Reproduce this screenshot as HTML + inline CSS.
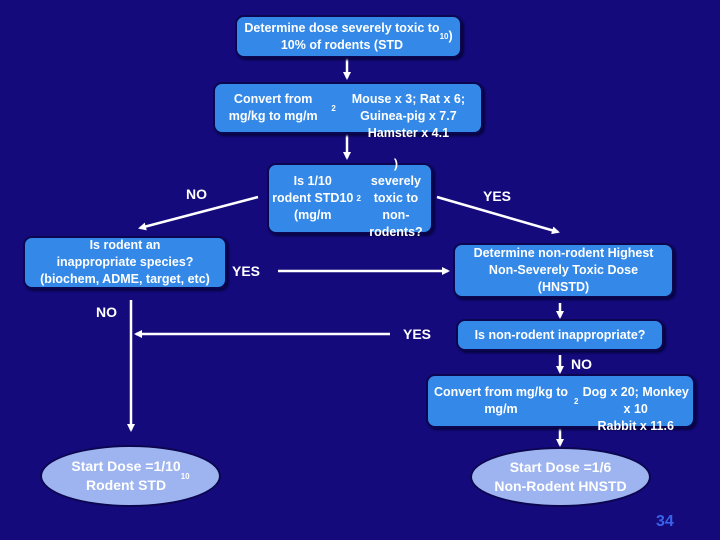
<!DOCTYPE html>
<html><head><style>
body{margin:0;width:720px;height:540px;background:#140a7c;position:relative;overflow:hidden;font-family:"Liberation Sans",Arial,sans-serif;font-weight:bold;color:#fff}
.b{position:absolute;background:#3388e8;border:2px solid #0c0650;border-radius:9px;box-sizing:border-box;display:flex;align-items:center;justify-content:center;text-align:center;font-size:12.5px;line-height:17px;box-shadow:2px 2px 2px #070440}
.e{position:absolute;background:#9db4f0;border:2px solid #0c0650;border-radius:50%;box-sizing:border-box;display:flex;align-items:center;justify-content:center;text-align:center;font-size:14px;line-height:19px}
.t{position:absolute;font-size:14px}
sup,sub{font-size:8px}
svg{position:absolute;left:0;top:0}
</style></head><body>
<svg width="720" height="540">
<defs><marker id="a" markerWidth="8" markerHeight="8" refX="6" refY="4" orient="auto" markerUnits="userSpaceOnUse"><path d="M0,0 L8,4 L0,8 z" fill="#fff"/></marker></defs>
<g stroke="#fff" stroke-width="2.5" fill="none" marker-end="url(#a)">
<line x1="347" y1="58" x2="347" y2="78"/>
<line x1="347" y1="134" x2="347" y2="158"/>
<line x1="258" y1="197" x2="140" y2="228"/>
<line x1="437" y1="197" x2="558" y2="232"/>
<line x1="278" y1="271" x2="448" y2="271"/>
<line x1="560" y1="303" x2="560" y2="317"/>
<line x1="390" y1="334" x2="136" y2="334"/>
<line x1="131" y1="300" x2="131" y2="430"/>
<line x1="560" y1="355" x2="560" y2="372"/>
<line x1="560" y1="428" x2="560" y2="445"/>
</g></svg>
<div class="b" style="left:235px;top:15px;width:227px;height:43px">Determine dose severely toxic to<br>10% of rodents (STD<sub>10</sub>)</div>
<div class="b" style="left:213px;top:82px;width:270px;height:52px">Convert from mg/kg to mg/m<sup>2</sup><br>Mouse x 3; Rat x 6; Guinea-pig x 7.7<br>Hamster x 4.1</div>
<div class="b" style="left:267px;top:163px;width:166px;height:71px">Is 1/10<br>rodent STD10 (mg/m<sup>2</sup>)<br>severely toxic to<br>non-rodents?</div>
<div class="b" style="left:23px;top:236px;width:204px;height:53px">Is rodent an<br>inappropriate species?<br>(biochem, ADME, target, etc)</div>
<div class="b" style="left:453px;top:243px;width:221px;height:55px">Determine non-rodent Highest<br>Non-Severely Toxic Dose<br>(HNSTD)</div>
<div class="b" style="left:456px;top:319px;width:208px;height:32px">Is non-rodent inappropriate?</div>
<div class="b" style="left:426px;top:374px;width:269px;height:54px">Convert from mg/kg to mg/m<sup>2</sup><br>Dog x 20; Monkey x 10<br>Rabbit x 11.6</div>
<div class="e" style="left:40px;top:445px;width:181px;height:62px">Start Dose =1/10<br>Rodent STD<sub>10</sub></div>
<div class="e" style="left:470px;top:447px;width:181px;height:60px">Start Dose =1/6<br>Non-Rodent HNSTD</div>
<div class="t" style="left:186px;top:186px">NO</div>
<div class="t" style="left:483px;top:188px">YES</div>
<div class="t" style="left:232px;top:263px">YES</div>
<div class="t" style="left:96px;top:304px">NO</div>
<div class="t" style="left:403px;top:326px">YES</div>
<div class="t" style="left:571px;top:356px">NO</div>
<div class="t" style="left:656px;top:513px;color:#3a62e8;font-size:16px">34</div>
</body></html>
